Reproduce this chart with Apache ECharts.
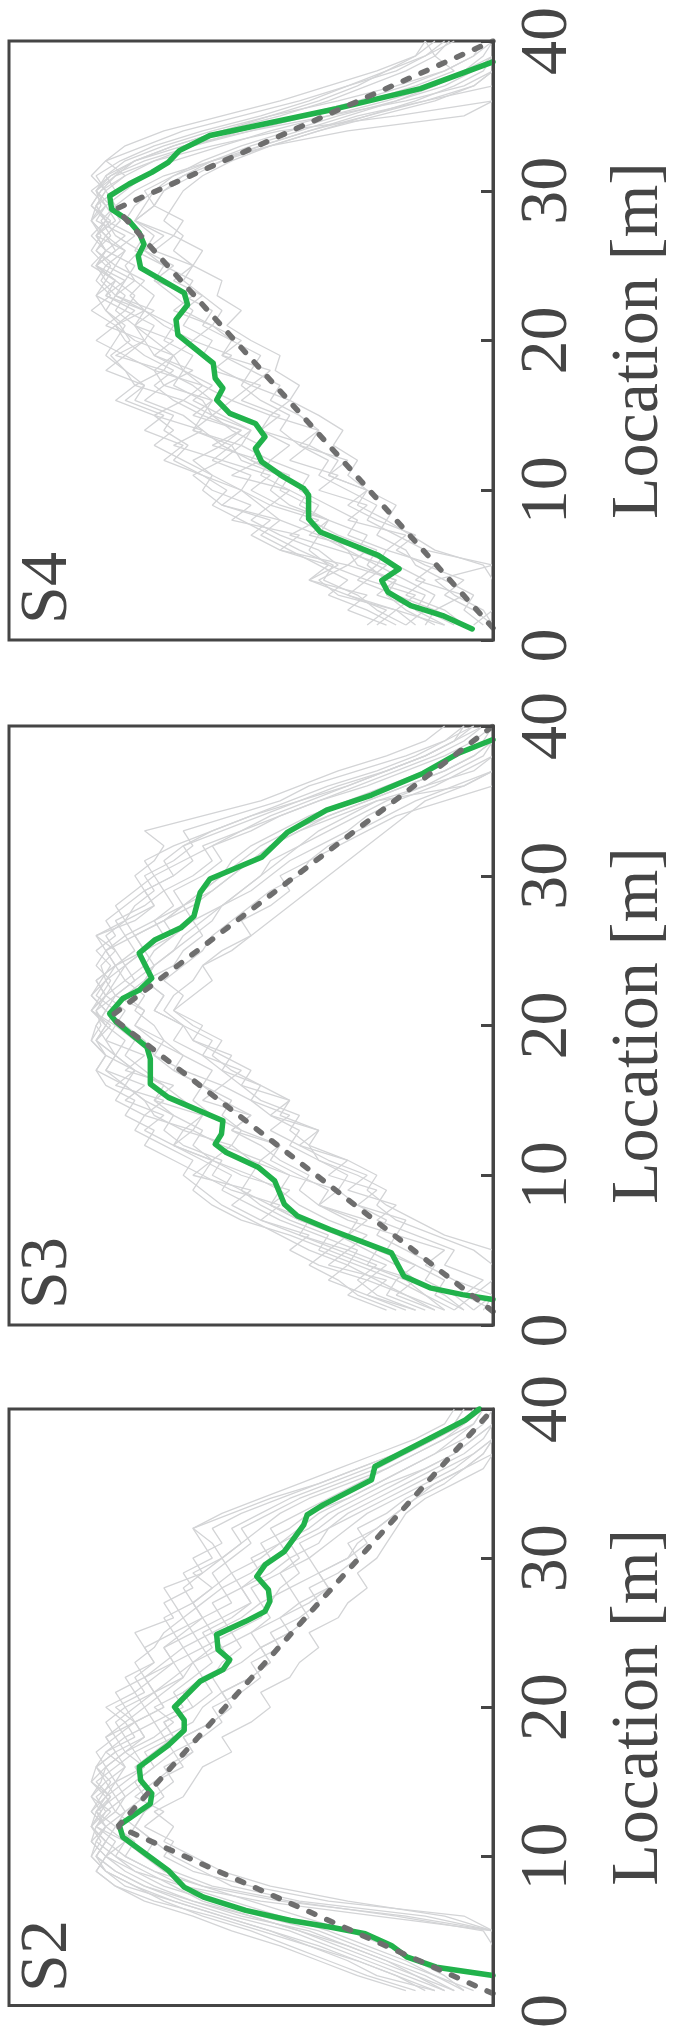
<!DOCTYPE html>
<html><head><meta charset="utf-8">
<script src="https://cdn.jsdelivr.net/npm/echarts@6/dist/echarts.min.js"></script>
<style>html,body{margin:0;padding:0;background:#fff}#c{width:681px;height:2031px}</style>
</head><body><div id="c"></div>
<script>
// ---------- data ----------
const locations = [0,1,2,3,4,5,6,7,8,9,10,11,12,13,14,15,16,17,18,19,20,21,22,23,24,25,26,27,28,29,30,31,32,33,34,35,36,37,38,39,40];
const panelNames = ['S4', 'S3', 'S2'];
const axisName = 'Location [m]';

// green (mean) curves: location / value vertices
const s4GreenLoc = [0.74,1.63,2.30,3.19,3.97,4.75,5.65,7.21,8.10,9.67,10.11,11.00,11.90,12.79,13.57,14.46,15.13,16.03,16.81,17.48,18.48,20.38,21.39,22.39,23.18,24.85,25.64,26.42,27.20,27.99,28.77,29.66,30.45,31.23,31.90,32.68,33.69,35.48,36.82,38.61];
const s4GreenVal = [4.3,10.4,17.0,21.7,23.0,19.4,23.7,35.7,38.1,38.1,39.1,43.8,47.8,49.1,47.1,49.1,54.4,57.1,55.8,57.4,57.8,65.1,65.5,63.1,63.8,72.8,73.3,72.1,73.1,75.2,78.8,79.2,75.2,70.5,67.1,64.8,58.5,32.4,15.0,0];
const s3GreenLoc = [1.70,2.03,2.48,3.26,4.82,6.38,7.28,8.06,9.62,10.51,11.52,12.08,12.75,13.64,15.20,16.09,17.77,18.55,20.22,20.79,21.80,22.36,23.15,24.83,25.73,26.52,27.30,28.88,29.78,31.24,32.92,34.38,35.39,36.85,38.20,39.10];
const s3GreenVal = [0,6.3,13.0,18.4,21.0,33.7,40.4,43.1,45.1,48.4,55.1,57.4,56.1,55.8,67.1,70.8,70.8,71.5,77.8,79.2,76.5,73.1,70.5,73.1,69.8,64.5,61.8,60.5,58.5,47.8,42.4,34.4,25.1,14.4,7.0,0];
const s2GreenLoc = [2.01,2.57,3.24,4.03,4.81,5.26,5.70,6.38,7.27,7.94,9.06,10.18,11.30,12.08,13.53,14.21,15.10,16.00,17.45,18.46,19.13,20.02,21.74,22.52,23.19,23.86,24.87,25.76,26.43,27.10,27.88,28.77,29.55,30.45,32.23,32.90,33.57,35.25,36.14,38.04,39.26,40.00];
const s2GreenVal = [0,11.7,17.7,21.0,26.4,33.7,41.8,51.1,59.8,63.8,67.1,71.8,76.5,77.2,70.8,70.5,72.8,73.1,67.1,63.8,63.8,65.8,60.5,55.8,54.4,56.8,57.1,51.1,47.1,46.1,46.4,48.8,47.1,43.1,39.1,38.4,35.1,25.1,24.4,13.0,5.7,2.8];

// dashed triangle
const s4DashLoc = [0.8, 28.8, 40];  const s4DashVal = [0, 77.8, 0];
const s3DashLoc = [0.9, 20.6, 40];  const s3DashVal = [0, 79.0, 0];
const s2DashLoc = [0.8, 12.0, 40];  const s2DashVal = [0, 77.5, 0];

// individual (grey) curves, value at each location 0..40
const s4Gray = [
 [null,18,24,28,35,33,40,46,52,58,55,60,66,63,68,66,74,72,76,79,75,77,80,78,81,79,82,80,83,81,82,78,74,66,56,44,34,26,18,12,9],
 [null,4,0,0,0,2,12,17,22,20,26,30,28,33,31,36,42,40,45,44,50,55,52,57,56,62,60,66,64,70,68,64,56,46,36,24,12,4,0,0,0],
 [null,10,16,14,22,26,24,32,38,36,42,48,46,52,50,56,62,58,64,66,62,68,72,70,74,76,73,78,80,82,80,76,70,62,52,40,28,18,10,4,0],
 [null,22,30,26,38,32,36,44,50,46,52,58,62,56,60,64,72,68,70,76,72,74,78,76,80,78,82,79,81,78,80,82,77,70,60,48,38,30,22,14,10],
 [null,6,10,18,14,20,28,26,34,40,38,44,50,48,54,58,54,60,64,62,68,66,72,75,72,78,76,80,77,79,82,80,74,64,50,34,18,6,0,0,0],
 [null,12,18,22,20,28,30,36,34,42,46,44,52,54,50,58,60,66,64,70,72,70,76,74,78,82,80,83,80,78,74,68,58,46,30,6,0,0,0,0,0],
 [null,0,2,8,12,0,14,20,26,24,30,36,34,40,44,42,48,52,50,56,54,60,58,64,62,68,72,70,74,72,70,66,60,52,42,32,20,10,4,0,0],
 [null,16,20,30,26,34,38,36,44,48,52,50,58,54,62,60,66,70,66,72,76,78,74,80,78,82,80,76,82,80,83,79,72,62,50,38,26,16,8,12,14],
 [null,8,14,12,18,24,22,30,28,34,40,38,46,42,48,46,54,50,56,60,58,64,62,66,70,68,74,72,76,74,70,64,58,50,40,30,20,12,6,2,0],
 [null,20,26,34,30,36,42,48,44,56,60,58,64,70,66,70,78,74,76,80,78,76,80,82,80,82,78,80,83,82,80,83,80,76,68,56,44,34,24,16,12],
 [null,2,6,4,10,16,18,24,22,28,26,34,32,38,36,40,46,44,50,48,54,58,56,60,64,62,66,64,68,66,64,60,54,46,36,26,16,8,2,0,0],
 [null,14,12,20,28,24,30,34,40,38,44,42,50,56,52,60,58,62,68,66,70,74,72,78,76,74,80,82,80,83,81,78,70,58,44,20,0,0,0,0,0],
 [null,24,20,32,36,30,44,40,54,50,58,62,56,66,60,70,64,74,68,78,72,80,76,82,78,83,80,82,79,83,81,76,80,72,64,52,40,30,20,14,8],
 [null,0,4,10,6,14,20,16,24,30,26,34,30,40,36,46,42,50,46,56,52,58,64,60,66,62,70,66,74,70,72,66,58,48,38,28,14,4,0,0,0],
 [null,10,20,16,26,22,32,42,36,46,42,54,48,58,52,62,58,68,62,70,66,74,70,78,74,80,76,82,78,80,76,72,66,56,46,34,22,12,6,0,0],
 [null,18,14,24,20,30,26,38,34,44,50,46,56,52,62,58,64,60,70,66,74,78,72,80,76,82,78,74,80,82,78,80,76,68,58,46,32,20,10,4,2],
 [null,6,12,6,16,12,22,18,30,26,36,32,42,38,48,44,52,48,58,54,62,58,66,62,70,66,72,68,74,70,68,62,56,48,38,26,14,0,0,0,0],
 [null,26,22,30,38,34,44,50,46,56,52,60,68,64,72,68,76,72,80,76,82,78,83,79,82,80,83,81,83,80,82,79,74,66,56,46,36,28,22,16,14]
];
const s3Gray = [
 [null,10,18,24,30,28,36,44,50,56,54,60,66,64,70,72,76,74,78,80,82,80,83,80,81,78,80,76,74,70,72,66,62,64,54,44,38,28,18,10,6],
 [null,2,0,0,0,4,12,20,24,22,28,36,38,42,40,48,52,50,56,62,64,68,66,62,60,56,50,46,42,38,34,30,26,22,18,14,6,0,0,0,0],
 [null,14,22,20,28,36,34,42,48,52,58,56,64,68,66,72,76,80,78,82,80,83,81,79,82,80,76,78,72,68,70,64,58,52,44,36,26,18,10,4,0],
 [null,6,12,10,16,22,20,30,36,34,40,46,44,52,56,54,60,66,64,70,74,72,76,72,70,66,62,58,56,50,46,42,36,30,26,20,12,6,0,0,0],
 [null,20,28,32,38,34,42,52,58,62,60,66,72,70,76,74,80,82,80,83,81,82,80,82,78,80,82,76,78,74,70,72,66,58,50,40,32,22,14,8,4],
 [null,8,4,0,0,0,10,16,22,26,24,30,38,36,44,42,48,54,58,56,62,66,64,68,64,60,58,54,50,46,40,38,32,26,20,10,0,0,0,0,0],
 [null,16,24,28,24,32,40,38,46,52,50,58,62,60,66,70,68,74,78,76,80,78,82,80,78,74,76,70,66,68,62,58,60,52,46,38,30,22,14,8,2],
 [null,12,18,26,22,30,26,34,40,44,42,50,54,52,58,62,60,66,70,72,76,80,78,74,76,72,68,70,64,60,56,52,48,42,34,26,18,10,4,0,0],
 [null,4,8,14,12,18,24,22,28,32,30,36,42,40,46,50,48,56,60,58,64,70,68,72,70,66,64,60,56,52,48,44,40,34,28,22,14,8,2,0,0],
 [null,18,26,34,30,38,44,50,56,60,64,62,68,74,72,78,76,82,80,83,82,80,83,81,79,82,78,80,76,72,74,70,68,72,60,48,40,32,22,14,10],
 [null,10,14,18,26,24,30,28,36,40,38,44,48,54,50,56,60,58,64,68,70,74,72,76,72,70,66,68,62,58,54,50,46,40,32,24,6,0,0,0,0],
 [null,6,10,16,20,26,32,40,46,44,50,48,56,62,60,64,68,72,76,74,78,76,80,78,76,72,74,68,64,60,56,54,50,44,38,30,22,14,8,2,0],
 [null,12,20,16,26,34,30,40,46,42,52,58,54,64,60,70,66,76,72,80,78,83,80,76,78,72,74,68,64,66,60,56,58,50,44,36,28,20,12,6,2],
 [null,0,6,2,10,8,16,24,20,30,26,34,40,36,46,42,52,56,54,62,60,66,62,58,60,54,50,52,46,42,44,38,34,28,22,16,8,0,0,0,0],
 [null,16,26,22,34,30,40,48,44,54,60,58,66,62,72,68,78,74,80,82,79,83,80,82,78,80,74,76,70,72,66,62,64,58,50,42,34,24,16,10,4],
 [null,8,14,20,16,24,30,26,36,32,42,48,44,54,50,60,56,64,70,68,74,72,78,74,70,72,66,62,64,58,54,50,46,40,34,26,18,10,4,0,0],
 [null,22,30,26,36,42,38,48,54,50,62,58,66,72,68,76,72,80,78,82,80,82,78,80,76,78,82,74,70,72,66,68,64,56,48,40,30,22,14,8,6],
 [null,4,0,8,14,10,20,18,28,24,34,30,40,46,42,50,56,52,60,66,64,70,68,72,66,64,60,62,56,52,48,46,40,36,30,24,14,4,0,0,0]
];
const s2Gray = [
 [null,10,16,24,32,40,50,62,72,78,82,80,83,81,79,82,78,74,76,70,72,68,64,66,60,62,56,58,52,54,48,44,46,40,34,28,22,16,10,6,4],
 [null,0,0,0,0,0,14,40,54,60,66,70,74,72,68,70,64,66,60,56,58,52,48,50,44,46,40,36,38,32,28,30,24,20,16,12,6,2,0,0,0],
 [null,14,20,28,36,46,56,66,76,80,83,82,80,83,80,78,80,76,72,74,68,70,66,62,64,58,60,54,56,50,46,48,42,38,30,24,18,12,8,4,2],
 [null,6,12,18,26,34,44,54,64,70,76,74,78,76,72,74,70,66,68,62,60,56,58,52,48,50,44,40,42,36,38,34,30,26,20,14,8,4,0,0,0],
 [null,12,24,30,38,48,58,70,78,82,80,83,82,79,83,81,80,82,78,80,76,78,72,74,70,68,64,66,68,60,56,58,62,54,46,36,28,20,12,8,6],
 [null,0,0,0,0,0,10,30,46,56,62,68,66,70,64,62,60,54,56,50,46,48,42,40,36,38,32,30,26,28,24,22,20,18,14,8,2,0,0,0,0],
 [null,8,14,22,30,38,52,62,70,76,80,78,82,80,76,78,72,74,68,70,64,66,62,58,60,54,56,50,52,46,42,44,38,34,28,22,14,8,4,0,0],
 [null,16,26,34,42,50,60,68,74,80,83,81,83,82,80,83,82,78,80,76,80,74,76,70,72,74,66,68,62,64,58,60,62,56,48,40,32,24,16,10,8],
 [null,0,0,0,0,2,20,42,58,66,72,76,74,78,76,72,74,70,66,68,62,64,58,56,52,54,48,46,44,40,42,36,34,30,24,18,12,6,2,0,0],
 [null,10,18,26,34,42,54,64,72,78,82,80,83,80,82,78,76,80,74,76,72,74,70,66,68,62,64,60,56,58,54,50,52,46,40,32,24,18,12,6,2],
 [null,6,10,16,22,30,40,50,60,68,72,70,74,72,70,66,68,62,64,58,54,56,50,46,48,42,38,40,34,36,30,28,24,20,16,10,6,2,0,0,0],
 [null,0,0,0,0,0,24,48,64,74,78,82,80,83,81,79,82,80,76,78,74,70,72,66,68,64,60,62,58,54,56,52,48,44,38,30,22,16,10,4,2],
 [null,4,12,20,28,36,48,58,68,74,80,76,82,78,80,76,72,76,70,66,70,64,60,62,56,58,52,48,50,44,40,42,36,32,26,20,14,8,4,0,0],
 [null,0,0,0,0,0,6,34,50,62,68,66,72,68,74,70,66,62,64,58,54,56,50,46,48,42,44,38,34,36,30,26,28,22,18,12,6,0,0,0,0],
 [null,18,28,36,44,54,62,72,78,82,80,83,80,82,79,83,80,76,78,74,76,70,72,68,64,66,60,62,58,62,56,52,54,48,42,34,26,18,12,6,4],
 [null,8,16,22,30,40,50,60,66,72,78,76,80,76,78,74,70,72,66,68,62,58,60,54,56,50,46,48,42,44,38,40,34,28,22,16,10,4,0,0,0],
 [null,0,0,0,0,0,18,44,60,70,76,80,78,82,78,80,76,78,72,74,68,70,64,62,58,60,54,50,52,48,50,44,40,36,30,24,18,12,6,2,0],
 [null,12,20,28,38,46,56,66,74,80,82,80,83,81,83,80,82,78,80,74,78,72,74,70,72,66,68,62,64,60,62,56,58,52,44,36,28,20,14,8,6]
];

// ---------- layout / style ----------
const panels = [
  {gray: s4Gray, gLoc: s4GreenLoc, gVal: s4GreenVal, dLoc: s4DashLoc, dVal: s4DashVal},
  {gray: s3Gray, gLoc: s3GreenLoc, gVal: s3GreenVal, dLoc: s3DashLoc, dVal: s3DashVal},
  {gray: s2Gray, gLoc: s2GreenLoc, gVal: s2GreenVal, dLoc: s2DashLoc, dVal: s2DashVal}
];
const gridTops = [41, 726, 1409];
const GL = 9, GW = 507, GH = 599;
const FONT = '"Liberation Serif", "Times New Roman", serif';
const FS = 68;
const INK = '#454545';

const grid = [], xAxis = [], yAxis = [], series = [], graphic = [];
panels.forEach((p, i) => {
  grid.push({left: GL, top: gridTops[i], width: GW, height: GH, show: true,
    borderColor: INK, borderWidth: 3, backgroundColor: 'transparent'});
  xAxis.push({type: 'value', gridIndex: i, min: 0, max: 100, inverse: true, show: false});
  yAxis.push({type: 'value', gridIndex: i, min: 0, max: 40, interval: 10, position: 'right', z: 5,
    axisLine: {show: true, onZero: false, lineStyle: {color: INK, width: 3}},
    axisTick: {show: true, inside: true, length: 12, lineStyle: {color: INK, width: 3}},
    splitLine: {show: false},
    axisLabel: {rotate: 90, fontSize: FS, fontFamily: FONT, color: INK, margin: 21,
      showMinLabel: true, showMaxLabel: true, hideOverlap: false,
      formatter: v => v === 0 ? '{z|0}' : String(v),
      rich: {z: {fontSize: FS, fontFamily: FONT, color: INK, padding: [0, 11, 0, 0]}}},
    name: axisName, nameLocation: 'middle', nameRotate: 90, nameGap: 112,
    nameTextStyle: {fontSize: FS, fontFamily: FONT, color: INK}
  });
  p.gray.forEach(arr => {
    series.push({type: 'line', xAxisIndex: i, yAxisIndex: i, silent: true,
      data: arr.map((v, k) => v == null ? null : [v, locations[k]]).filter(d => d),
      symbol: 'none', lineStyle: {color: '#d3d4d6', width: 1.3}, z: 1});
  });
  series.push({type: 'line', xAxisIndex: i, yAxisIndex: i, silent: true,
    data: p.gVal.map((v, k) => [v, p.gLoc[k]]),
    symbol: 'none', lineStyle: {color: '#21b24b', width: 5.5, cap: 'round', join: 'round'}, z: 3});
  series.push({type: 'line', xAxisIndex: i, yAxisIndex: i, silent: true,
    data: p.dVal.map((v, k) => [v, p.dLoc[k]]),
    symbol: 'none', lineStyle: {color: '#6e6e6e', width: 5.5, type: [6.5, 13], cap: 'round'}, z: 4});
  graphic.push({type: 'text', x: 48, y: gridTops[i] + GH - 52, rotation: Math.PI / 2,
    style: {text: panelNames[i], fontSize: FS, fontFamily: FONT, fill: INK, align: 'center', verticalAlign: 'middle'}});
});

const chart = echarts.init(document.getElementById('c'), null, {renderer: 'canvas', width: 681, height: 2031});
chart.setOption({animation: false, backgroundColor: '#fff', grid, xAxis, yAxis, series, graphic});
</script>
</body></html>
